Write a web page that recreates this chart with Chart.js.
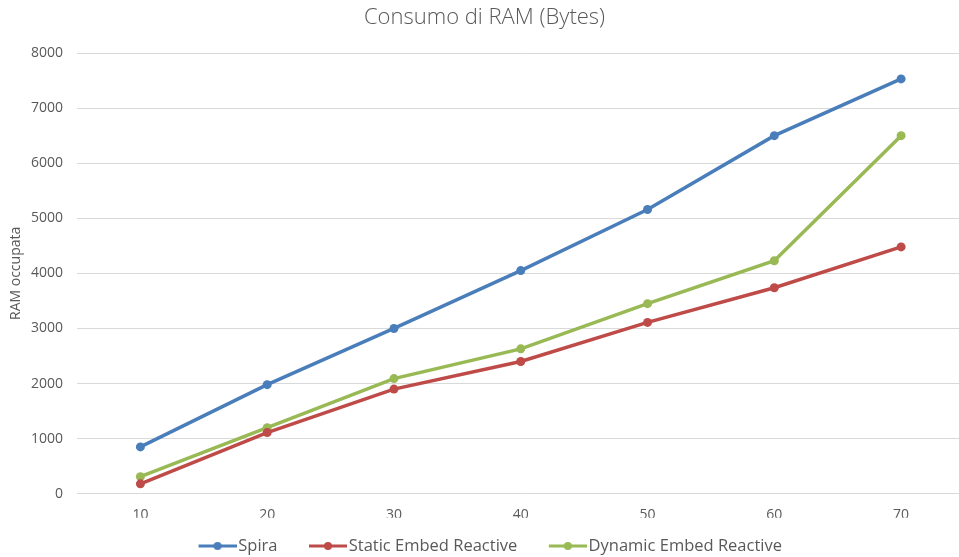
<!DOCTYPE html>
<html>
<head>
<meta charset="utf-8">
<script src="https://cdn.jsdelivr.net/npm/chart.js@4.4.1/dist/chart.umd.min.js"></script>
<style>
  html, body { margin: 0; padding: 0; background: #ffffff; overflow: hidden; }
  #wrap { width: 959px; height: 557px; overflow: hidden; position: relative; }
  #box { width: 969px; height: 557px; position: absolute; left: 0; top: 0; }
</style>
</head>
<body>
<div id="wrap"><div id="box"><canvas id="c" width="969" height="557"></canvas></div></div>
<script>
// Number of users (categories on the x axis)
const categories = ['10', '20', '30', '40', '50', '60', '70'];

// RAM used, in bytes, per implementation
const spira = [850, 1980, 3000, 4050, 5160, 6500, 7530];
const staticEmbed = [180, 1110, 1900, 2400, 3110, 3740, 4480];
const dynamicEmbed = [310, 1200, 2090, 2630, 3450, 4230, 6500];

const yTicks = [0, 1000, 2000, 3000, 4000, 5000, 6000, 7000, 8000];

const seriesNames = ['Spira', 'Static Embed Reactive', 'Dynamic Embed Reactive'];
const colors = ['#4A7EBB', '#BE4B48', '#98B954'];

const FONT = "'Open Sans', 'DejaVu Sans', sans-serif";
const GREY = '#595959';

const LEGEND_FONT = 16.5;
const LEGEND_BOX = 43;
const LEGEND_PAD = 20;

// Legend symbol: a short line with a dot in the middle, drawn at the right
// end of a transparent strip so it sits just before the label text
function legendSymbol(color) {
  const w = Math.round(LEGEND_BOX + LEGEND_FONT - 4);
  const cv = document.createElement('canvas');
  cv.width = w; cv.height = 10;
  const g = cv.getContext('2d');
  const x0 = w - 38;
  g.strokeStyle = color;
  g.lineWidth = 3;
  g.beginPath(); g.moveTo(x0, 5); g.lineTo(w, 5); g.stroke();
  g.fillStyle = color;
  g.beginPath(); g.arc(x0 + 19, 5, 4, 0, Math.PI * 2); g.fill();
  return cv;
}

function ds(label, data, color) {
  return {
    label: label,
    data: data,
    borderColor: color,
    backgroundColor: color,
    borderWidth: 3.5,
    pointRadius: 4.5,
    pointHoverRadius: 4.5,
    pointBorderWidth: 0,
    pointBackgroundColor: color,
    pointStyle: 'circle',
    tension: 0
  };
}

new Chart(document.getElementById('c'), {
  type: 'line',
  data: {
    labels: categories,
    datasets: [
      ds(seriesNames[0], spira, colors[0]),
      ds(seriesNames[1], staticEmbed, colors[1]),
      ds(seriesNames[2], dynamicEmbed, colors[2])
    ]
  },
  options: {
    responsive: false,
    animation: false,
    layout: { padding: { top: 0, right: 0, bottom: -7.25, left: 0 } },
    plugins: {
      title: {
        display: true,
        text: 'Consumo di RAM (Bytes)',
        color: GREY,
        font: { family: FONT, size: 22, weight: '300', lineHeight: 1.2 },
        padding: { top: 5, bottom: 21.6 }
      },
      legend: {
        position: 'bottom',
        labels: {
          color: GREY,
          font: { family: FONT, size: LEGEND_FONT },
          usePointStyle: true,
          pointStyleWidth: LEGEND_BOX,
          padding: LEGEND_PAD,
          generateLabels: function (chart) {
            return chart.data.datasets.map(function (d, i) {
              return {
                text: d.label,
                fillStyle: d.borderColor,
                strokeStyle: d.borderColor,
                fontColor: GREY,
                lineWidth: 0,
                pointStyle: legendSymbol(d.borderColor),
                datasetIndex: i,
                hidden: false
              };
            });
          }
        }
      },
      tooltip: { enabled: false }
    },
    scales: {
      x: {
        offset: true,
        grid: { display: false, drawTicks: false },
        border: { display: false },
        ticks: { color: GREY, font: { family: FONT, size: 14 }, padding: 13 },
        afterFit: function (scale) { scale.height = 24; }
      },
      y: {
        min: 0,
        max: 8000,
        afterBuildTicks: function (scale) {
          scale.ticks = yTicks.map(function (v) { return { value: v }; });
        },
        grid: { color: '#D9D9D9', lineWidth: 1, drawTicks: false },
        border: { display: false },
        ticks: {
          color: GREY,
          font: { family: FONT, size: 14 },
          padding: 14,
          callback: function (v) { return String(v); }
        },
        title: {
          display: true,
          text: 'RAM occupata',
          color: GREY,
          font: { family: FONT, size: 14 },
          padding: { top: 8, bottom: 0 }
        },
        afterFit: function (scale) { scale.width = 77; }
      }
    }
  }
});
</script>
</body>
</html>
